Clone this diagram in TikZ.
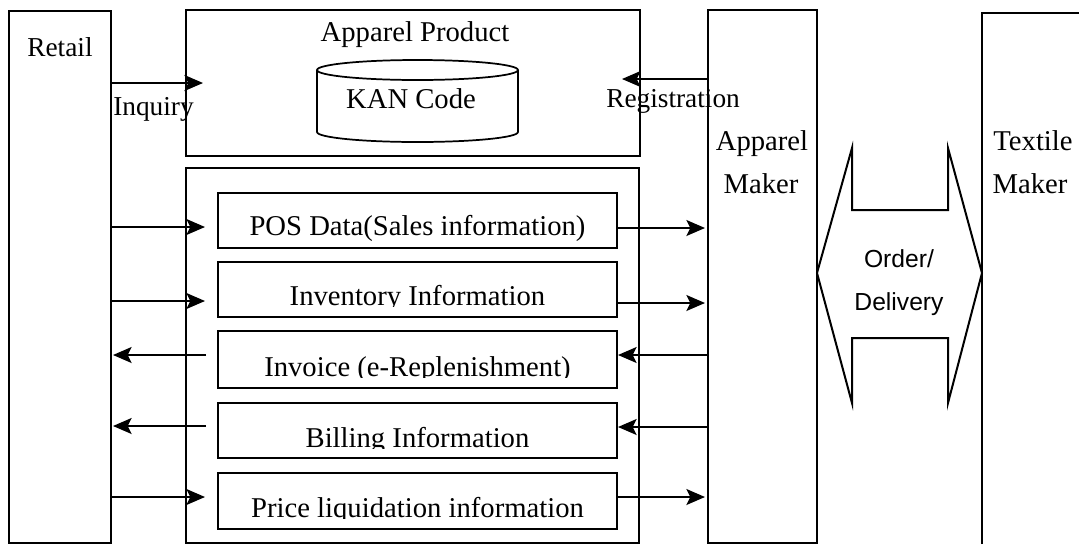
\documentclass[tikz,border=0pt]{standalone}
\usepackage{fontspec}
\setmainfont{Liberation Serif}
\newfontfamily\sansf{Liberation Sans}
\usetikzlibrary{arrows.meta,fit,calc}
\begin{document}
\begin{tikzpicture}[x=0.75pt,y=-0.75pt,
  box/.style={draw, line width=1.7pt, inner sep=0pt, outer sep=0pt},
  ibox/.style={draw, line width=1.6pt, inner sep=0pt, outer sep=0pt},
  arr/.style={line width=1.3pt, -{Stealth[length=14pt,width=12pt,inset=3pt]}},
  lbl/.style={inner sep=0pt, font=\fontsize{21.5}{26}\selectfont},
  slbl/.style={inner sep=0pt, font=\fontsize{20.5}{24}\selectfont},
  olbl/.style={inner sep=0pt, font=\sansf\fontsize{18.5}{22}\selectfont}]
\useasboundingbox[fill=white] (0,0) rectangle (1079,544);

% main boxes
\node[box, fit={(9,11) (111,543)}] (retail) {};
\node[box, fit={(186,10) (640,156)}] (product) {};
\node[box, fit={(186,168) (639,543)}] (lower) {};
\node[box, fit={(708,10) (817,543)}] (maker) {};
\node[inner sep=0pt, outer sep=0pt, fit={(982,13) (1079,544)}] (textile) {};
\draw[line width=1.7pt] (textile.south west) -- (textile.north west) -- (textile.north east);

% inner boxes
\node[ibox, fit={(218,193) (617,248)}] (pos) {};
\node[ibox, fit={(218,262) (617,317)}] (inv) {};
\node[ibox, fit={(218,331) (617,388)}] (invoice) {};
\node[ibox, fit={(218,403) (617,458)}] (billing) {};
\node[ibox, fit={(218,473) (617,529)}] (price) {};

% labels
\node[slbl, anchor=base] (tretail) at (60,56) {Retail};
\node[lbl, anchor=base] (tproduct) at (415,41) {Apparel Product};
\node[lbl, anchor=base] (tapp1) at (762,150) {Apparel};
\node[lbl, anchor=base] (tapp2) at (761,193) {Maker};
\node[lbl, anchor=base] (ttex1) at (1033,150) {Textile};
\node[lbl, anchor=base] (ttex2) at (1030,193) {Maker};

% KAN code cylinder
\draw[line width=1.3pt] (417.5,70) ellipse [x radius=75.375pt, y radius=7.5pt];
\draw[line width=1.3pt] (317,70) -- (317,132)
  arc[start angle=180, end angle=360, x radius=75.375pt, y radius=7.5pt] -- (518,70);
\node[lbl, anchor=base] (kan) at (411,108) {KAN Code};

% Inquiry / Registration
\draw[arr] (retail.east |- 0,83) -- ([xshift=12.75pt]product.west |- 0,83);
\node[slbl, anchor=base west] (inq) at (113,115) {Inquiry};
\draw[arr] (maker.west |- 0,79) -- ([xshift=-13.5pt]product.east |- 0,79);
\node[slbl, anchor=base west] (reg) at (606,107) {Registration};

% inner texts
\node[lbl, anchor=base] (tpos) at (417.5,235) {POS Data(Sales information)};
\begin{scope}
  \clip (inv.north west) rectangle (inv.east |- 0,306);
  \node[lbl, anchor=base] (tinv) at (417.5,305) {Inventory Information};
\end{scope}
\begin{scope}
  \clip (invoice.north west) rectangle (invoice.east |- 0,377);
  \node[lbl, anchor=base] (tinvoice) at (417.5,376) {Invoice (e-Replenishment)};
\end{scope}
\begin{scope}
  \clip (billing.north west) rectangle (billing.east |- 0,448);
  \node[lbl, anchor=base] (tbilling) at (417.5,447) {Billing Information};
\end{scope}
\begin{scope}
  \clip (price.north west) rectangle (price.east |- 0,518);
  \node[lbl, anchor=base] (tprice) at (417.5,517) {Price liquidation information};
\end{scope}

% row arrows, left side
\draw[arr, shorten >=9.75pt] (retail.east |- 0,227) -- (pos.west |- 0,227);
\draw[arr, shorten >=9.75pt] (retail.east |- 0,301) -- (inv.west |- 0,301);
\draw[arr, shorten <=9pt, shorten >=1.5pt] (invoice.west |- 0,355) -- (retail.east |- 0,355);
\draw[arr, shorten <=9pt, shorten >=1.5pt] (billing.west |- 0,426) -- (retail.east |- 0,426);
\draw[arr, shorten >=9.75pt] (retail.east |- 0,497) -- (price.west |- 0,497);

% row arrows, right side
\draw[arr, shorten >=2.25pt] (pos.east |- 0,228) -- (maker.west |- 0,228);
\draw[arr, shorten >=2.25pt] (inv.east |- 0,303) -- (maker.west |- 0,303);
\draw[arr, shorten >=0.75pt] (maker.west |- 0,355) -- (invoice.east |- 0,355);
\draw[arr, shorten >=0.75pt] (maker.west |- 0,427) -- (billing.east |- 0,427);
\draw[arr, shorten >=2.25pt] (price.east |- 0,497) -- (maker.west |- 0,497);

% Order / Delivery double arrow
\draw[line width=1.5pt, line join=miter] (maker.east |- 0,273) -- (852,148) -- (852,210) -- (948,210)
  -- (948,148) -- (textile.west |- 0,273) -- (948,403) -- (948,338) -- (852,338)
  -- (852,403) -- cycle;
\node[olbl, anchor=base] (ord1) at (899,267) {Order/};
\node[olbl, anchor=base] (ord2) at (899,310) {Delivery};
\end{tikzpicture}
\end{document}
